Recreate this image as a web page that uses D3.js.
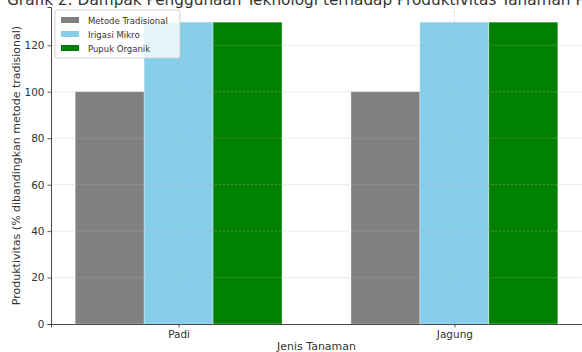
<!DOCTYPE html>
<html>
<head>
<meta charset="utf-8">
<script src="https://cdn.jsdelivr.net/npm/d3@7"></script>
<style>
  body { margin: 0; background: #fff; }
  svg { display: block; font-family: "DejaVu Sans", sans-serif; }
</style>
</head>
<body>
<div id="chart"></div>
<script>
// data
var crops = ["Padi", "Jagung"];
var seriesNames = ["Metode Tradisional", "Irigasi Mikro", "Pupuk Organik"];
var seriesColors = ["#808080", "#87ceeb", "#008000"];
var tradisional = [100, 100];
var irigasi = [130, 130];
var organik = [130, 130];
var yTicks = [0, 20, 40, 60, 80, 100, 120];
var titleText = "Grafik 2: Dampak Penggunaan Teknologi terhadap Produktivitas Tanaman Pangan";

(function() {
  var W = 582, H = 352;
  var mL = 51, mR = 582, mT = 7, mB = 324;

  var svg = d3.select("#chart").append("svg")
    .attr("width", W).attr("height", H);

  // x: numeric like matplotlib, groups at 0 and 1, bar width 0.25
  var barW = 0.25;
  var x = d3.scaleLinear().domain([-0.4625, 1.4625]).range([mL, mR]);
  var y = d3.scaleLinear().domain([0, 136.5]).range([mB, mT]);

  var rows = [];
  [tradisional, irigasi, organik].forEach(function(vals, s) {
    vals.forEach(function(v, i) {
      rows.push({ s: s, i: i, v: v });
    });
  });

  // bars
  svg.append("g").selectAll("rect")
    .data(rows)
    .enter().append("rect")
      .attr("x", d => x(d.i + (d.s - 1) * barW - barW / 2))
      .attr("width", d => x(barW) - x(0))
      .attr("y", d => y(d.v))
      .attr("height", d => y(0) - y(d.v))
      .attr("fill", d => seriesColors[d.s])
      .attr("stroke", "#e8f4ec")
      .attr("stroke-width", 0.4);

  // grid on top of bars (dashed, light)
  var grid = svg.append("g")
    .attr("stroke", "#b0b0b0")
    .attr("stroke-opacity", 0.5)
    .attr("stroke-width", 0.8)
    .attr("stroke-dasharray", "2.5,1.5");
  grid.selectAll("line.h")
    .data(yTicks.slice(1))
    .enter().append("line")
      .attr("x1", mL).attr("x2", mR)
      .attr("y1", d => y(d)).attr("y2", d => y(d));
  grid.selectAll("line.v")
    .data(crops)
    .enter().append("line")
      .attr("x1", (d, i) => x(i)).attr("x2", (d, i) => x(i))
      .attr("y1", mT).attr("y2", mB);

  // axes
  var yAxis = d3.axisLeft(y).tickValues(yTicks).tickSize(3.5).tickPadding(3);
  var gy = svg.append("g").attr("transform", "translate(" + mL + ",0)").call(yAxis);
  var xAxis = d3.axisBottom(x).tickValues([0, 1]).tickFormat((d) => crops[d]).tickSize(3.5).tickPadding(3);
  var gx = svg.append("g").attr("transform", "translate(0," + mB + ")").call(xAxis);
  [gx, gy].forEach(function(g) {
    g.select(".domain").attr("stroke", "#333").attr("stroke-width", 0.9);
    g.selectAll(".tick line").attr("stroke", "#333").attr("stroke-width", 0.8);
    g.selectAll(".tick text").attr("fill", "#333").attr("font-size", "10.5px")
      .attr("font-family", "DejaVu Sans, sans-serif");
  });

  // labels
  svg.append("text")
    .attr("x", (mL + mR) / 2).attr("y", 350)
    .attr("text-anchor", "middle")
    .attr("font-size", "11px").attr("fill", "#333")
    .text("Jenis Tanaman");

  svg.append("text")
    .attr("transform", "translate(20," + ((mT + mB) / 2) + ") rotate(-90)")
    .attr("text-anchor", "middle")
    .attr("font-size", "11px").attr("fill", "#333")
    .text("Produktivitas (% dibandingkan metode tradisional)");

  svg.append("text")
    .attr("x", 7).attr("y", 5)
    .attr("font-size", "15.3px").attr("fill", "#333")
    .text(titleText);

  // legend
  var lg = svg.append("g").attr("transform", "translate(55,10)");
  lg.append("rect")
    .attr("width", 125).attr("height", 48).attr("rx", 2)
    .attr("fill", "#fff").attr("fill-opacity", 0.8)
    .attr("stroke", "#ccc").attr("stroke-width", 0.8);
  seriesNames.forEach(function(name, k) {
    var row = lg.append("g").attr("transform", "translate(6," + (7 + k * 14) + ")");
    row.append("rect").attr("width", 18).attr("height", 6).attr("fill", seriesColors[k]);
    row.append("text").attr("x", 27).attr("y", 6.5)
      .attr("font-size", "8.5px").attr("fill", "#333").text(name);
  });
})();
</script>
</body>
</html>
